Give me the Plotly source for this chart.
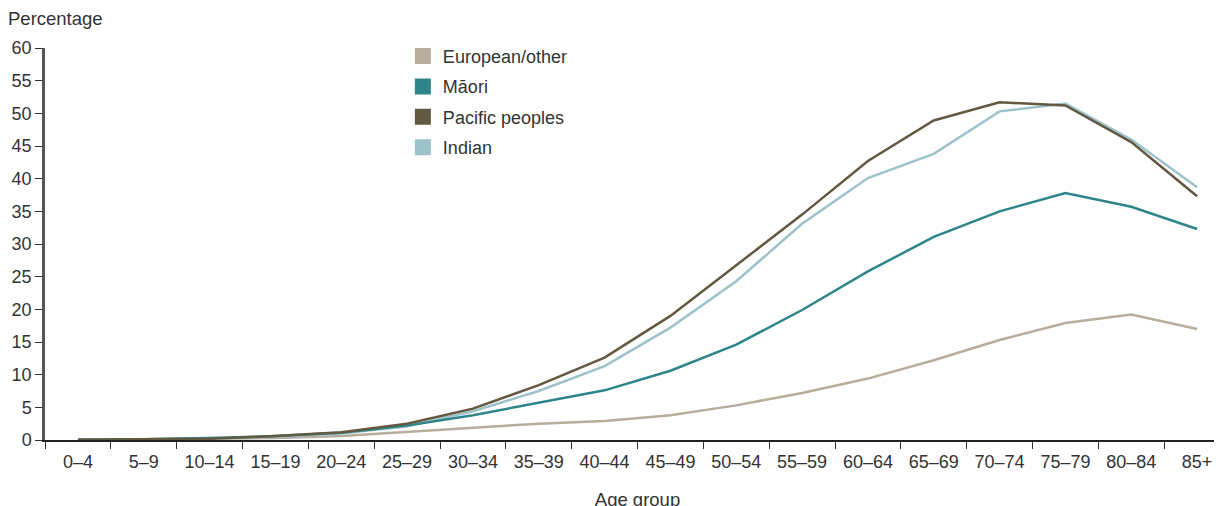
import plotly.graph_objects as go

age_groups = ["0–4", "5–9", "10–14", "15–19", "20–24", "25–29", "30–34", "35–39",
              "40–44", "45–49", "50–54", "55–59", "60–64", "65–69", "70–74", "75–79",
              "80–84", "85+"]
european = [0.05, 0.1, 0.2, 0.3, 0.6, 1.2, 1.9, 2.5, 2.9, 3.8, 5.3, 7.2, 9.4, 12.2, 15.3, 17.9, 19.2, 17.0]
maori = [0.05, 0.1, 0.3, 0.6, 1.1, 2.2, 3.8, 5.7, 7.6, 10.6, 14.6, 19.9, 25.8, 31.1, 35.0, 37.8, 35.7, 32.3]
pacific = [0.05, 0.1, 0.2, 0.6, 1.2, 2.5, 4.8, 8.4, 12.6, 19.0, 26.8, 34.5, 42.7, 48.9, 51.7, 51.2, 45.6, 37.3]
indian = [0.05, 0.1, 0.2, 0.5, 1.0, 2.1, 4.4, 7.5, 11.3, 17.2, 24.3, 33.1, 40.1, 43.8, 50.3, 51.5, 46.0, 38.7]
y_ticks = list(range(0, 61, 5))

series = [
    ("European/other", european, "#b6ad9c"),
    ("Māori", maori, "#2e8589"),
    ("Pacific peoples", pacific, "#635840"),
    ("Indian", indian, "#9dc3ca"),
]

font_family = "Liberation Sans, Arial, Helvetica, sans-serif"
fig = go.Figure()
# draw order: european, indian, maori, pacific on top
for name, vals, col in [series[0], series[3], series[1], series[2]]:
    fig.add_trace(go.Scatter(x=age_groups, y=vals, mode="lines", name=name,
                             line=dict(color=col, width=2.5), showlegend=False))
for i, (name, vals, col) in enumerate(series):
    fig.add_trace(go.Scatter(x=[None], y=[None], mode="markers", name=name,
                             legendgroup=str(i),
                             marker=dict(symbol="square", size=16, color=col)))

fig.update_layout(
    width=1222, height=506,
    margin=dict(l=37, r=0, t=40, b=74, autoexpand=False),
    paper_bgcolor="white", plot_bgcolor="white",
    font=dict(family=font_family, size=18, color="#333333"),
    showlegend=True,
    legend=dict(x=0.302, y=1.026, xanchor="left", yanchor="top",
                bgcolor="rgba(0,0,0,0)", tracegroupgap=4,
                font=dict(size=18, color="#333333")),
    xaxis=dict(type="category", categoryorder="array", categoryarray=age_groups,
               range=[-0.5, 17.5],
               showline=True, linecolor="#222222", linewidth=1.5,
               ticks="outside", tickson="boundaries", ticklen=7, tickcolor="#333333",
               tickwidth=1.2, showgrid=False, zeroline=False, ticklabelstandoff=5,
               tickfont=dict(size=18, color="#333333"),
               title=dict(text="Age group", standoff=22, font=dict(size=18.5, color="#333333"))),
    yaxis=dict(range=[0, 60], tickvals=y_ticks, showline=True, linecolor="#555555",
               linewidth=2.5, ticks="outside", ticklen=7, tickcolor="#333333",
               tickwidth=1.2, showgrid=False, zeroline=False,
               tickfont=dict(size=18, color="#333333")),
    annotations=[dict(text="Percentage", x=0, y=1.0, xref="paper", yref="paper",
                      xanchor="left", yanchor="bottom", xshift=-39, yshift=17,
                      showarrow=False, font=dict(size=18.5, color="#333333"))],
)
fig.write_html("out.html")
